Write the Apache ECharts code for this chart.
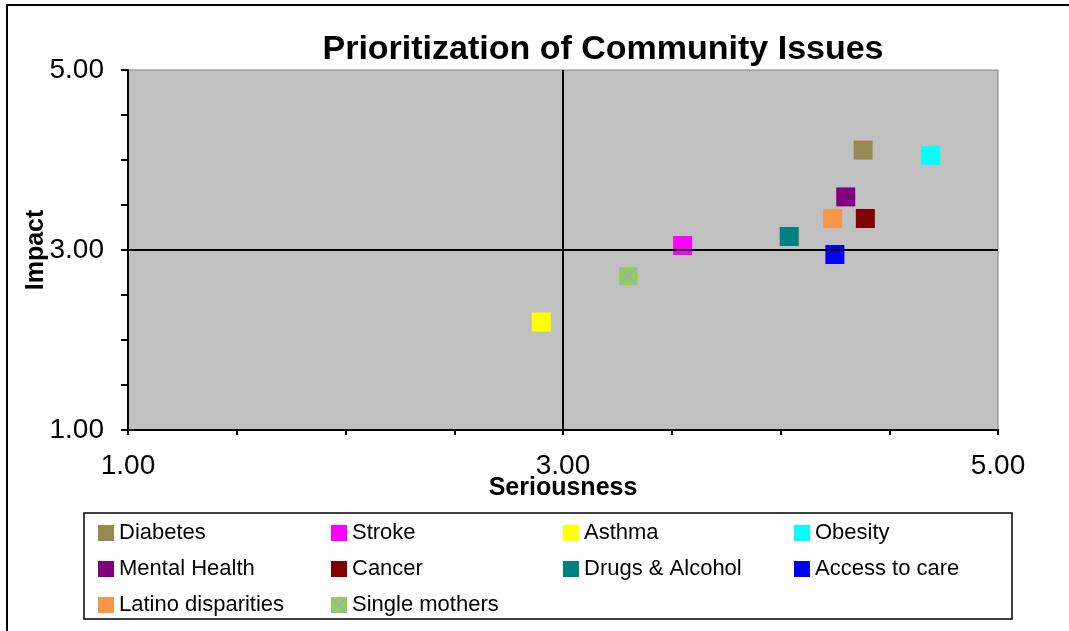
<!DOCTYPE html>
<html>
<head>
<meta charset="utf-8">
<script src="https://cdn.jsdelivr.net/npm/echarts@6/dist/echarts.min.js"></script>
<style>
  html, body { margin: 0; padding: 0; background: #fff; }
  #chart { width: 1069px; height: 631px; }
</style>
</head>
<body>
<div id="chart"></div>
<script>
// issues, in legend order
const issues = ["Diabetes", "Stroke", "Asthma", "Obesity", "Mental Health", "Cancer",
  "Drugs & Alcohol", "Access to care", "Latino disparities", "Single mothers"];
const seriousness = [4.38, 3.55, 2.90, 4.69, 4.30, 4.39, 4.04, 4.25, 4.24, 3.30];
const impact = [4.11, 3.05, 2.20, 4.05, 3.59, 3.35, 3.15, 2.95, 3.35, 2.71];
const colors = ["#948A54", "#FF00FF", "#FFFF00", "#00FFFF", "#800080", "#800000",
  "#008080", "#0000FF", "#F79646", "#92D050"];
const tickLabels = [1, 3, 5];
const legendColumns = [
  ["Diabetes", "Mental Health", "Latino disparities"],
  ["Stroke", "Cancer", "Single mothers"],
  ["Asthma", "Drugs & Alcohol"],
  ["Obesity", "Access to care"]
];

const crossSvg = "<svg xmlns='http://www.w3.org/2000/svg' width='20' height='20'>" +
  "<rect width='20' height='20' fill='#92D050'/>" +
  "<path d='M1 1L19 19M19 1L1 19' stroke='#98ACCC' stroke-width='2'/></svg>";
const crossIcon = "image://data:image/svg+xml;charset=utf-8," + encodeURIComponent(crossSvg);

const font = "'Liberation Sans', Arial, sans-serif";
const fmt = v => (tickLabels.indexOf(Math.round(v * 100) / 100) >= 0 ? v.toFixed(2) : "");

const series = issues.map((name, i) => ({
  name: name,
  type: "scatter",
  z: 3,
  symbol: name === "Single mothers" ? crossIcon : "rect",
  symbolSize: 19,
  itemStyle: { color: colors[i], opacity: 1 },
  data: [[seriousness[i], impact[i]]]
}));
// quadrant cross at 3.00 / 3.00
series.push({
  type: "scatter",
  z: 1,
  data: [],
  markLine: {
    silent: true,
    symbol: "none",
    label: { show: false },
    lineStyle: { color: "#000", width: 2, type: "solid" },
    data: [{ xAxis: 3 }, { yAxis: 3 }]
  }
});

const legendLeft = [98, 331, 563, 794];
const legends = legendColumns.map((col, k) => ({
  orient: "vertical",
  left: legendLeft[k],
  top: 522,
  padding: 0,
  itemWidth: 16,
  itemHeight: 16,
  itemGap: 14,
  selectedMode: false,
  textStyle: { fontFamily: font, fontSize: 22, lineHeight: 22, color: "#000" },
  data: col.map(n => (n === "Single mothers" ? { name: n, icon: crossIcon } : { name: n, icon: "rect" }))
}));

const chart = echarts.init(document.getElementById("chart"));
chart.setOption({
  animation: false,
  backgroundColor: "#fff",
  textStyle: { fontFamily: font },
  grid: {
    left: 128, right: 71, top: 70, bottom: 201,
    show: true, backgroundColor: "#C0C0C0", borderColor: "#808080", borderWidth: 1
  },
  xAxis: {
    type: "value", min: 1, max: 5, interval: 0.5,
    name: "Seriousness", nameLocation: "middle", nameGap: 46, nameMoveOverlap: false,
    nameTextStyle: { fontFamily: font, fontSize: 25, fontWeight: "bold", color: "#000" },
    axisLine: { show: true, onZero: false, lineStyle: { color: "#000", width: 2 } },
    axisTick: { show: true, length: 5, lineStyle: { color: "#000", width: 2 } },
    axisLabel: { formatter: fmt, margin: 22, fontSize: 28, color: "#000", fontFamily: font },
    splitLine: { show: false }
  },
  yAxis: {
    type: "value", min: 1, max: 5, interval: 0.5,
    name: "Impact", nameLocation: "middle", nameGap: 79, nameMoveOverlap: false,
    nameTextStyle: { fontFamily: font, fontSize: 25, fontWeight: "bold", color: "#000" },
    axisLine: { show: true, onZero: false, lineStyle: { color: "#000", width: 2 } },
    axisTick: { show: true, length: 7, lineStyle: { color: "#000", width: 2 } },
    axisLabel: { formatter: fmt, margin: 24, fontSize: 28, color: "#000", fontFamily: font },
    splitLine: { show: false }
  },
  legend: legends,
  series: series,
  graphic: [
    {
      type: "rect", silent: true, z: 0,
      shape: { x: 7, y: 5, width: 1100, height: 700 },
      style: { fill: "none", stroke: "#000", lineWidth: 2 }
    },
    {
      type: "rect", silent: true, z: 0,
      shape: { x: 84, y: 513, width: 928, height: 106 },
      style: { fill: "none", stroke: "#000", lineWidth: 1.5 }
    },
    {
      type: "text", silent: true, x: 603, y: 33,
      style: {
        text: "Prioritization of Community Issues", fill: "#000",
        font: "bold 34px " + font, textAlign: "center", textVerticalAlign: "top"
      }
    }
  ]
});
</script>
</body>
</html>
